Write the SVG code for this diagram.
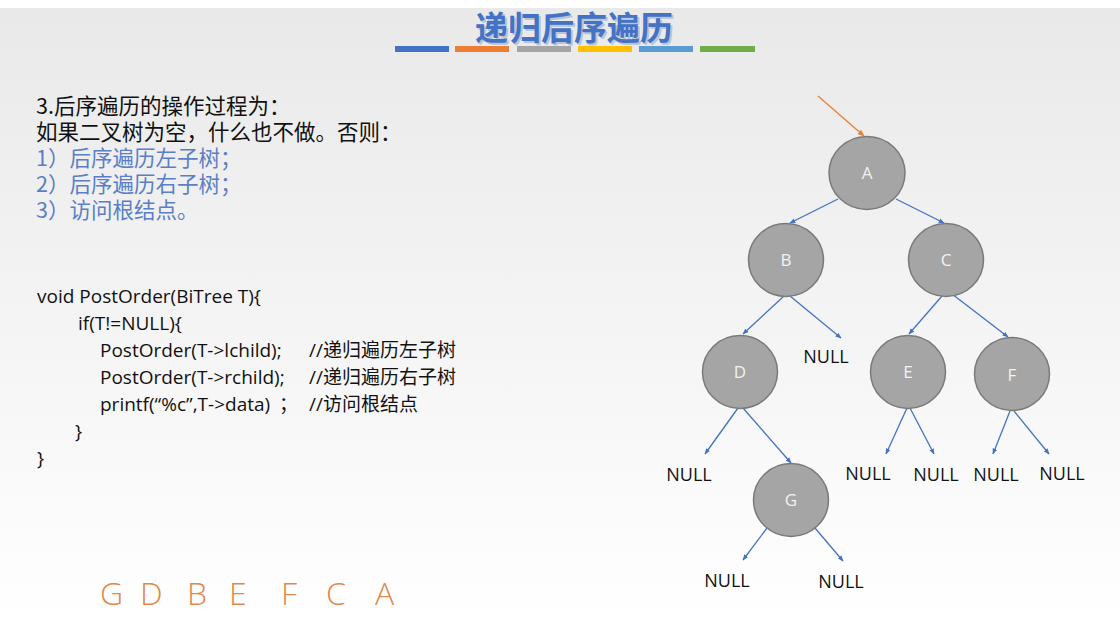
<svg xmlns="http://www.w3.org/2000/svg" width="1120" height="624" viewBox="0 0 1120 624">
  <defs>
    <linearGradient id="bg" x1="0" y1="0" x2="0" y2="1">
      <stop offset="0" stop-color="#e9e9e9"/>
      <stop offset="0.55" stop-color="#f5f5f5"/>
      <stop offset="1" stop-color="#ffffff"/>
    </linearGradient>
    <marker id="arrB" viewBox="0 0 10 10" refX="9" refY="5" markerWidth="6" markerHeight="6" orient="auto" markerUnits="userSpaceOnUse">
      <path d="M0,1 L10,5 L0,9 z" fill="#4472c4"/>
    </marker>
    <marker id="arrO" viewBox="0 0 10 10" refX="9" refY="5" markerWidth="7" markerHeight="7" orient="auto" markerUnits="userSpaceOnUse">
      <path d="M0,1 L10,5 L0,9 z" fill="#ed7d31"/>
    </marker>
  </defs>
  <style>
    .cn { font-family: "Noto Sans CJK SC", sans-serif; font-size: 21.5px; fill: #111; }
    .blue { fill: #5a7fc6; }
    .code { font-family: "Open Sans", "Noto Sans CJK SC", sans-serif; font-size: 19px; fill: #111; }
    .node ellipse { fill: #a5a5a5; stroke: #7a7a7a; stroke-width: 1.5; }
    .node text { font-family: "Open Sans", sans-serif; font-size: 17px; fill: #f2f2f2; text-anchor: middle; }
    .null { font-family: "Open Sans", sans-serif; font-size: 18px; fill: #111; text-anchor: middle; }
    .edge { stroke: #4472c4; stroke-width: 1.3; fill: none; marker-end: url(#arrB); }
  </style>

  <!-- slide background -->
  <rect width="1120" height="624" fill="#ffffff"/>
  <rect y="8" width="1120" height="616" fill="url(#bg)"/>

  <!-- heading -->
  <g id="title">
    <text x="576" y="42" text-anchor="middle" font-family="Noto Sans CJK SC, sans-serif" font-size="33" font-weight="bold" fill="#b8c4d8">递归后序遍历</text>
    <text x="574" y="40" text-anchor="middle" font-family="Noto Sans CJK SC, sans-serif" font-size="33" font-weight="bold" fill="#4472c4">递归后序遍历</text>
    <rect x="395" y="46" width="54" height="6" fill="#4472c4"/>
    <rect x="455" y="46" width="54" height="6" fill="#ed7d31"/>
    <rect x="517" y="46" width="54" height="6" fill="#a5a5a5"/>
    <rect x="578" y="46" width="54" height="6" fill="#ffc000"/>
    <rect x="639" y="46" width="54" height="6" fill="#5b9bd5"/>
    <rect x="700" y="46" width="55" height="6" fill="#70ad47"/>
  </g>

  <!-- description -->
  <g id="steps">
    <text class="cn" x="36" y="114">3.后序遍历的操作过程为：<tspan x="36" dy="26">如果二叉树为空，什么也不做。否则：</tspan><tspan class="blue" x="36" dy="26">1）后序遍历左子树；</tspan><tspan class="blue" x="36" dy="26">2）后序遍历右子树；</tspan><tspan class="blue" x="36" dy="26">3）访问根结点。</tspan></text>
  </g>

  <!-- code listing -->
  <g id="code">
    <text class="code" x="37" y="303">void PostOrder(BiTree T){</text>
    <text class="code" x="78" y="330">if(T!=NULL){</text>
    <text class="code" x="100" y="357">PostOrder(T-&gt;lchild);</text>
    <text class="code" x="309" y="357">//递归遍历左子树</text>
    <text class="code" x="100" y="384">PostOrder(T-&gt;rchild);</text>
    <text class="code" x="309" y="384">//递归遍历右子树</text>
    <text class="code" x="100" y="411">printf(“%c”,T-&gt;data)</text>
    <text class="code" x="279" y="411">；</text>
    <text class="code" x="309" y="411">//访问根结点</text>
    <text class="code" x="75" y="438">}</text>
    <text class="code" x="37" y="465">}</text>
  </g>

  <!-- visiting order -->
  <g id="result">
    <text x="100 140 187 229 281 326 375" y="605" font-family="Open Sans, sans-serif" font-size="32" font-weight="300" fill="#e0894a">GDBEFCA</text>
  </g>

  <!-- connectors -->
  <g id="connectors">
    <line x1="818" y1="96" x2="864" y2="136" stroke="#ed7d31" stroke-width="1.3" marker-end="url(#arrO)"/>
    <line class="edge" x1="838" y1="199" x2="790" y2="223"/>
    <line class="edge" x1="896" y1="199" x2="944" y2="223"/>
    <line class="edge" x1="784" y1="296" x2="743" y2="334"/>
    <line class="edge" x1="790" y1="296" x2="841" y2="338"/>
    <line class="edge" x1="942" y1="296" x2="909" y2="334"/>
    <line class="edge" x1="952" y1="294" x2="1008" y2="337"/>
    <line class="edge" x1="738" y1="408" x2="705" y2="454"/>
    <line class="edge" x1="743" y1="408" x2="791" y2="463"/>
    <line class="edge" x1="907" y1="408" x2="886" y2="454"/>
    <line class="edge" x1="910" y1="408" x2="934" y2="454"/>
    <line class="edge" x1="1010" y1="411" x2="993" y2="454"/>
    <line class="edge" x1="1014" y1="411" x2="1049" y2="454"/>
    <line class="edge" x1="767" y1="528" x2="743" y2="560"/>
    <line class="edge" x1="815" y1="528" x2="843" y2="561"/>
  </g>

  <!-- tree nodes -->
  <g id="node-A" class="node"><ellipse cx="867" cy="173" rx="38" ry="36.5"/><text x="867" y="179">A</text></g>
  <g id="node-B" class="node"><ellipse cx="786" cy="260" rx="37.5" ry="36.5"/><text x="786" y="266">B</text></g>
  <g id="node-C" class="node"><ellipse cx="946" cy="260" rx="37.5" ry="36.5"/><text x="946" y="266">C</text></g>
  <g id="node-D" class="node"><ellipse cx="740" cy="372" rx="37.5" ry="36.5"/><text x="740" y="378">D</text></g>
  <g id="node-E" class="node"><ellipse cx="908" cy="372" rx="37.5" ry="36.5"/><text x="908" y="378">E</text></g>
  <g id="node-F" class="node"><ellipse cx="1012" cy="374" rx="37.5" ry="36.5"/><text x="1012" y="381">F</text></g>
  <g id="node-G" class="node"><ellipse cx="791" cy="500" rx="37.5" ry="36.5"/><text x="791" y="506">G</text></g>

  <!-- empty subtrees -->
  <g id="nulls">
    <text class="null" x="826" y="363">NULL</text>
    <text class="null" x="689" y="481">NULL</text>
    <text class="null" x="868" y="480">NULL</text>
    <text class="null" x="936" y="481">NULL</text>
    <text class="null" x="996" y="481">NULL</text>
    <text class="null" x="1062" y="480">NULL</text>
    <text class="null" x="727" y="587">NULL</text>
    <text class="null" x="841" y="588">NULL</text>
  </g>
</svg>
